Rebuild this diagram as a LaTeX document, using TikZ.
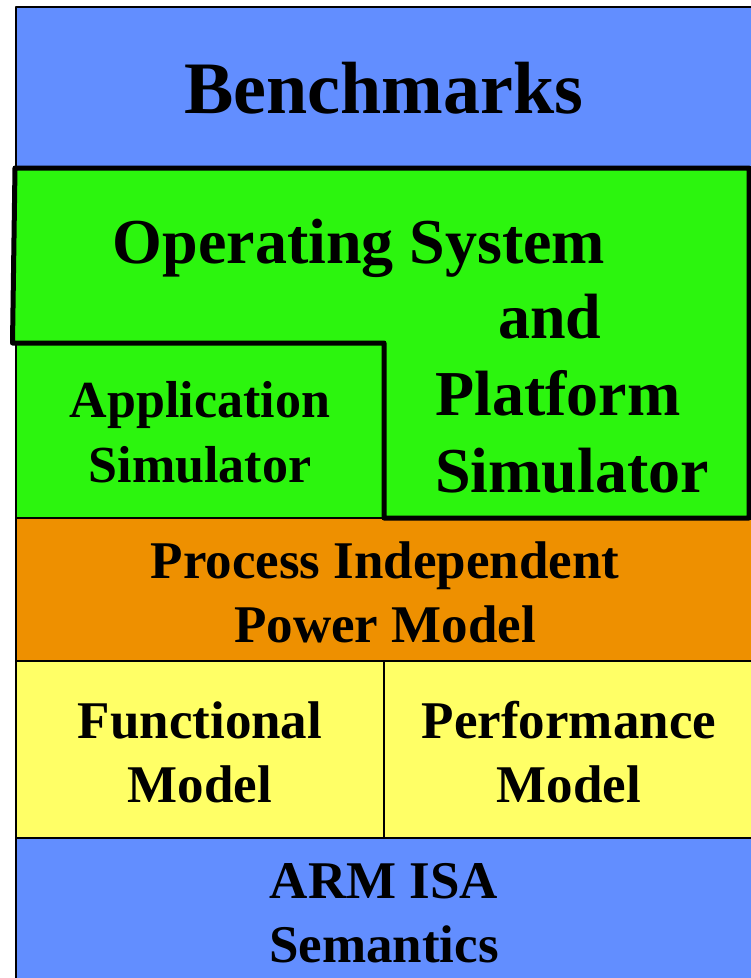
\documentclass[tikz,border=0pt]{standalone}
\usepackage{fontspec}
\setmainfont{Liberation Serif}
\usetikzlibrary{positioning}

\definecolor{isablue}{RGB}{98,142,255}
\definecolor{simgreen}{RGB}{44,245,14}
\definecolor{powerorange}{RGB}{238,144,0}
\definecolor{modelyellow}{RGB}{255,255,102}

\begin{document}
\begin{tikzpicture}[
  x=1pt, y=-1pt,
  layer/.style={draw, line width=2pt, line join=round},
  osline/.style={draw, line width=5pt, line join=round, fill=simgreen},
  txt/.style={inner sep=0pt, anchor=base, align=center, font=\bfseries}
]
\useasboundingbox (0,0) rectangle (751,978);

% Layers
\path[layer, fill=isablue] (16,7) rectangle (770,168);
\path[layer, fill=powerorange] (16,518) rectangle (770,661);
\path[layer, fill=modelyellow] (16,661) rectangle (384,838);
\path[layer, fill=modelyellow] (384,661) rectangle (770,838);
\path[layer, fill=isablue] (16,838) rectangle (770,1000);
\path[layer, fill=simgreen] (16,343) rectangle (384,518);
\path[osline] (15,168) -- (749,168) -- (749,518) -- (384,518)
  -- (384,343) -- (12.5,343) -- cycle;

% Nodes (base = baseline of last line)
\node[txt, font=\fontsize{74}{89}\selectfont\bfseries] (bench) at (384,113) {Benchmarks};
\node[txt, font=\fontsize{64}{77}\selectfont\bfseries] (os) at (359,263) {Operating System};
\node[txt, anchor=base west, align=left, font=\fontsize{64}{77}\selectfont\bfseries] (platform) at (435,492)
  {\hspace*{63pt}and\\Platform\\Simulator};
\node[txt, font=\fontsize{52}{65}\selectfont\bfseries] (appsim) at (200,482) {Application\\Simulator};
\node[txt, font=\fontsize{53}{64}\selectfont\bfseries] (power) at (385,642) {Process Independent\\Power Model};
\node[txt, font=\fontsize{53}{64}\selectfont\bfseries] (func) at (200,802) {Functional\\Model};
\node[txt, font=\fontsize{53}{64}\selectfont\bfseries] (perf) at (569,802) {Performance\\Model};
\node[txt, font=\fontsize{53}{64}\selectfont\bfseries] (isa) at (384,962) {ARM ISA\\Semantics};

\end{tikzpicture}
\end{document}
